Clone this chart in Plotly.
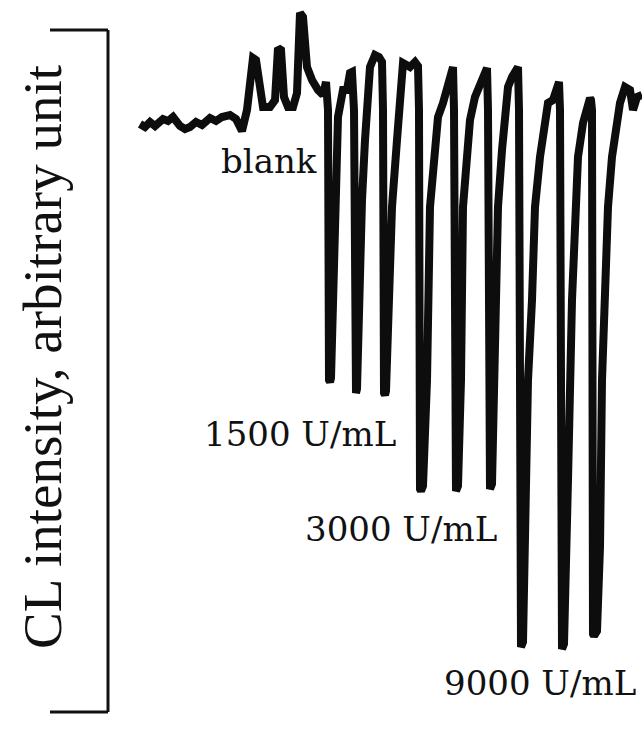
import plotly.graph_objects as go

# Trace: time (arbitrary, left->right) and CL intensity (arbitrary)
time = [140, 145, 150, 155, 163, 168, 173, 180, 185, 190, 196, 202, 210, 216, 222, 230, 236, 242,
        247, 250, 253, 256, 259, 263, 270, 275, 278, 281, 284, 288, 293, 297, 300, 303, 307, 312, 318, 323, 326,
        328, 329, 330, 331,
        333, 336, 338, 343, 347, 350, 352,
        354, 355, 356, 357,
        359, 362, 365, 368, 370, 375, 379, 382,
        383, 384, 385, 386,
        389, 392, 397, 400, 403, 410, 415, 418,
        419, 420, 421, 423,
        427, 430, 435, 438, 443, 448, 452, 453,
        454, 455, 456, 458,
        461, 463, 467, 470, 475, 480, 485, 487,
        488, 489, 490, 492,
        495, 498, 502, 505, 508, 512, 517, 518,
        519, 520, 521, 523,
        526, 528, 532, 535, 540, 545, 548, 553, 558, 559,
        560, 561, 562, 564,
        566, 568, 572, 575, 578, 583, 587, 590, 591,
        592, 593, 594, 597,
        600, 602, 605, 608, 612, 617, 620, 625, 630, 633, 637, 642]
pixel_level = [124, 127, 122, 126, 119, 121, 117, 126, 129, 127, 122, 125, 118, 121, 117, 115, 119, 131,
               110, 80, 58, 60, 85, 107, 107, 100, 48, 50, 97, 107, 107, 93, 13, 17, 67, 80, 90, 95, 82,
               110, 380, 382, 378,
               300, 200, 117, 90, 90, 73, 72,
               110, 391, 393, 389,
               300, 200, 140, 80, 67, 55, 57, 62,
               110, 393, 395, 391,
               300, 207, 140, 90, 63, 67, 62, 66,
               110, 489, 491, 486,
               380, 207, 140, 117, 103, 87, 70, 67,
               110, 489, 491, 486,
               380, 207, 157, 120, 97, 83, 70, 68,
               110, 487, 489, 484,
               380, 207, 150, 107, 87, 77, 70, 67,
               110, 645, 647, 642,
               500, 380, 300, 207, 157, 117, 103, 100, 83, 82,
               110, 647, 649, 644,
               580, 480, 300, 207, 157, 123, 107, 98, 100,
               110, 634, 636, 631,
               547, 380, 300, 207, 157, 123, 103, 87, 90, 110, 97, 95]
PAGE_H = 741
intensity = [PAGE_H - p for p in pixel_level]

labels = ["blank", "1500 U/mL", "3000 U/mL", "9000 U/mL"]
label_x = [269, 300, 401, 540]
label_y = [PAGE_H - 161, PAGE_H - 434, PAGE_H - 529, PAGE_H - 683]

y_title = "CL intensity, arbitrary unit"

fig = go.Figure()
fig.add_trace(go.Scatter(x=time, y=intensity, mode="lines",
                         line=dict(color="#0d0d0d", width=8),
                         hoverinfo="skip", showlegend=False))

for t, x, y in zip(labels, label_x, label_y):
    fig.add_annotation(x=x, y=y, xref="x", yref="y", text=t, showarrow=False,
                       xanchor="center", yanchor="middle",
                       font=dict(family="DejaVu Serif", size=34, color="#111111"))

fig.add_annotation(x=42, y=PAGE_H - 357, xref="x", yref="y", text=y_title, showarrow=False,
                   textangle=-90, xanchor="center", yanchor="middle",
                   font=dict(family="Liberation Serif", size=55, color="#111111"))

# bracket representing the intensity axis
bx0, bx1, by0, by1 = 50, 108, PAGE_H - 30, PAGE_H - 712
for (x0, y0, x1, y1) in [(bx0, by0, bx1, by0), (bx1, by0, bx1, by1), (bx0, by1, bx1, by1)]:
    fig.add_shape(type="line", x0=x0, y0=y0, x1=x1, y1=y1, xref="x", yref="y",
                  line=dict(color="#111111", width=3))

fig.update_layout(width=642, height=741, margin=dict(l=0, r=0, t=0, b=0),
                  paper_bgcolor="white", plot_bgcolor="white", showlegend=False)
fig.update_xaxes(range=[0, 642], visible=False, fixedrange=True)
fig.update_yaxes(range=[0, PAGE_H], visible=False, fixedrange=True)

fig.write_html("out.html")
